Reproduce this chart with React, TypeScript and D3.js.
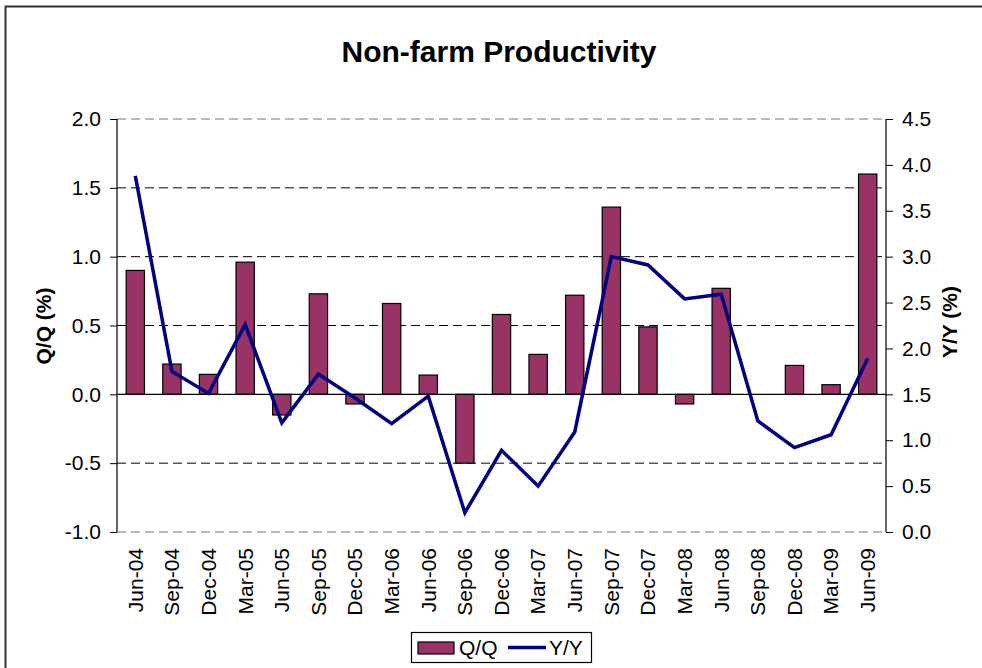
import * as d3 from "d3";
import { useEffect, useRef } from "react";

const quarters = [
  "Jun-04", "Sep-04", "Dec-04", "Mar-05", "Jun-05", "Sep-05", "Dec-05",
  "Mar-06", "Jun-06", "Sep-06", "Dec-06", "Mar-07", "Jun-07", "Sep-07",
  "Dec-07", "Mar-08", "Jun-08", "Sep-08", "Dec-08", "Mar-09", "Jun-09",
];

// quarter on quarter change, left axis
const qoq = [
  0.9, 0.22, 0.145, 0.96, -0.15, 0.73, -0.07, 0.66, 0.14, -0.5, 0.58,
  0.29, 0.72, 1.36, 0.49, -0.07, 0.77, 0, 0.21, 0.07, 1.6,
];

// year on year change, right axis
const yoy = [
  3.88, 1.75, 1.51, 2.26, 1.19, 1.72, 1.46, 1.18, 1.48, 0.21, 0.89,
  0.5, 1.09, 3.0, 2.91, 2.54, 2.59, 1.21, 0.92, 1.06, 1.89,
];

const leftTicks = [-1.0, -0.5, 0.0, 0.5, 1.0, 1.5, 2.0];
const rightTicks = [0, 0.5, 1, 1.5, 2, 2.5, 3, 3.5, 4, 4.5];

const fmt = (d: d3.NumberValue) => (+d).toFixed(1);

const App = () => {
  const ref = useRef<SVGSVGElement | null>(null);

  useEffect(() => {
    if (!ref.current) return;
    const svg = d3.select(ref.current);
    svg.selectAll("*").remove();

    const left = 117, right = 886, top = 119, bottom = 532;
    const font = "Arial, 'Liberation Sans', sans-serif";

    // outer chart border
    svg.append("rect")
      .attr("x", 5.5).attr("y", 6.5)
      .attr("width", 1100).attr("height", 800)
      .attr("fill", "#fff").attr("stroke", "#333").attr("stroke-width", 2);

    svg.append("text")
      .attr("x", 499).attr("y", 62)
      .attr("text-anchor", "middle")
      .attr("font-family", font).attr("font-weight", "bold")
      .attr("font-size", 30)
      .text("Non-farm Productivity");

    const x = d3.scaleBand().domain(quarters).range([left, right]).padding(0);
    const yL = d3.scaleLinear().domain([-1, 2]).range([bottom, top]);
    const yR = d3.scaleLinear().domain([0, 4.5]).range([bottom, top]);
    const bw = x.bandwidth() * 0.5;

    // gridlines
    svg.append("g")
      .selectAll("line")
      .data(leftTicks.filter((t) => t !== 0))
      .enter().append("line")
      .attr("x1", left).attr("x2", right)
      .attr("y1", (d) => yL(d)).attr("y2", (d) => yL(d))
      .attr("stroke", (d) => (d === 2 || d === -1 ? "#777" : "#000"))
      .attr("stroke-dasharray", "9,5");

    // bars
    svg.append("g")
      .selectAll("rect")
      .data(qoq.map((v, i) => ({ q: quarters[i], v })))
      .enter().append("rect")
      .attr("x", (d) => (x(d.q) as number) + (x.bandwidth() - bw) / 2)
      .attr("y", (d) => yL(Math.max(0, d.v)))
      .attr("width", bw)
      .attr("height", (d) => Math.abs(yL(d.v) - yL(0)))
      .attr("fill", "#993366")
      .attr("stroke", (d) => (d.v === 0 ? "none" : "#000"))
      .attr("stroke-width", 1.2);

    // zero line
    svg.append("line")
      .attr("x1", left).attr("x2", right)
      .attr("y1", yL(0)).attr("y2", yL(0))
      .attr("stroke", "#000").attr("stroke-width", 1.2);

    // Y/Y line
    const line = d3.line<number>()
      .x((_, i) => (x(quarters[i]) as number) + x.bandwidth() / 2)
      .y((d) => yR(d));
    svg.append("path")
      .datum(yoy)
      .attr("d", line)
      .attr("fill", "none")
      .attr("stroke", "#000080")
      .attr("stroke-width", 3.5)
      .attr("stroke-linejoin", "miter");

    // left axis
    const gl = svg.append("g")
      .attr("transform", `translate(${left},0)`)
      .call(d3.axisLeft(yL).tickValues(leftTicks).tickSize(7).tickPadding(9)
        .tickFormat(fmt));
    gl.select(".domain").attr("stroke", "#000").attr("stroke-width", 1.2)
      .attr("d", `M0,${top}V${bottom}`);
    gl.selectAll("text").attr("font-family", font).attr("font-size", 21).attr("fill", "#000");

    // right axis
    const gr = svg.append("g")
      .attr("transform", `translate(${right},0)`)
      .call(d3.axisRight(yR).tickValues(rightTicks).tickSize(7).tickPadding(9)
        .tickFormat(fmt));
    gr.select(".domain").attr("stroke", "#000").attr("stroke-width", 1.2)
      .attr("d", `M0,${top}V${bottom}`);
    gr.selectAll("text").attr("font-family", font).attr("font-size", 21).attr("fill", "#000");

    // category labels
    svg.append("g")
      .selectAll("text")
      .data(quarters)
      .enter().append("text")
      .attr("transform", (d) =>
        `translate(${(x(d) as number) + x.bandwidth() / 2},548) rotate(-90)`)
      .attr("dy", "0.35em")
      .attr("text-anchor", "end")
      .attr("font-family", font).attr("font-size", 21)
      .text((d) => d);

    // axis titles
    svg.append("text")
      .attr("transform", "translate(51,326) rotate(-90)")
      .attr("text-anchor", "middle")
      .attr("font-family", font).attr("font-weight", "bold").attr("font-size", 21)
      .text("Q/Q (%)");
    svg.append("text")
      .attr("transform", "translate(957,322) rotate(-90)")
      .attr("text-anchor", "middle")
      .attr("font-family", font).attr("font-weight", "bold").attr("font-size", 21)
      .text("Y/Y (%)");

    // legend
    const lg = svg.append("g");
    lg.append("rect")
      .attr("x", 411.5).attr("y", 632.5).attr("width", 180).attr("height", 30)
      .attr("fill", "#fff").attr("stroke", "#000").attr("stroke-width", 1.2);
    lg.append("rect")
      .attr("x", 418).attr("y", 642).attr("width", 36).attr("height", 12)
      .attr("fill", "#993366").attr("stroke", "#000").attr("stroke-width", 1.2);
    lg.append("text")
      .attr("x", 459).attr("y", 655)
      .attr("font-family", font).attr("font-size", 21)
      .text("Q/Q");
    lg.append("line")
      .attr("x1", 508).attr("x2", 546).attr("y1", 647.5).attr("y2", 647.5)
      .attr("stroke", "#000080").attr("stroke-width", 3.5);
    lg.append("text")
      .attr("x", 549).attr("y", 655)
      .attr("font-family", font).attr("font-size", 21)
      .text("Y/Y");
  }, []);

  return (
    <svg
      ref={ref}
      width={982}
      height={668}
      style={{ position: "absolute", left: 0, top: 0, background: "#fff", overflow: "hidden" }}
    />
  );
};

export default App;
